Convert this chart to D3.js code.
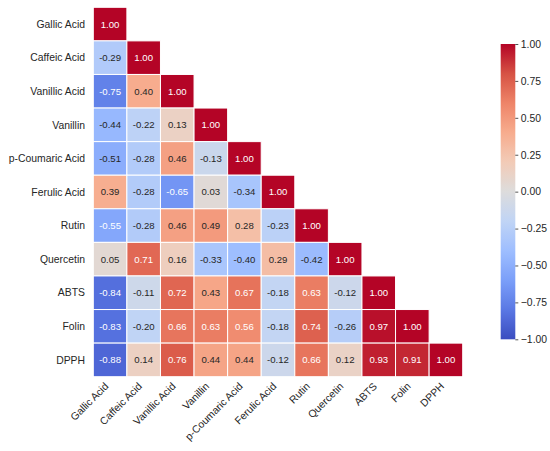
<!DOCTYPE html>
<html>
<head>
<meta charset="utf-8">
<script src="https://cdn.jsdelivr.net/npm/d3@7"></script>
<style>
  body { margin: 0; background: #ffffff; }
  text { font-family: Arial, "Liberation Sans", sans-serif; fill: #262626; }
</style>
</head>
<body>
<div id="heatmap"></div>
<script>
// correlation heatmap, lower triangle

var names = ["Gallic Acid", "Caffeic Acid", "Vanillic Acid", "Vanillin", "p-Coumaric Acid",
             "Ferulic Acid", "Rutin", "Quercetin", "ABTS", "Folin", "DPPH"];

// one row per compound, values up to the diagonal
var rowGallic    = [1.00];
var rowCaffeic   = [-0.29, 1.00];
var rowVanillic  = [-0.75, 0.40, 1.00];
var rowVanillin  = [-0.44, -0.22, 0.13, 1.00];
var rowCoumaric  = [-0.51, -0.28, 0.46, -0.13, 1.00];
var rowFerulic   = [0.39, -0.28, -0.65, 0.03, -0.34, 1.00];
var rowRutin     = [-0.55, -0.28, 0.46, 0.49, 0.28, -0.23, 1.00];
var rowQuercetin = [0.05, 0.71, 0.16, -0.33, -0.40, 0.29, -0.42, 1.00];
var rowABTS      = [-0.84, -0.11, 0.72, 0.43, 0.67, -0.18, 0.63, -0.12, 1.00];
var rowFolin     = [-0.83, -0.20, 0.66, 0.63, 0.56, -0.18, 0.74, -0.26, 0.97, 1.00];
var rowDPPH      = [-0.88, 0.14, 0.76, 0.44, 0.44, -0.12, 0.66, 0.12, 0.93, 0.91, 1.00];

var rows = [rowGallic, rowCaffeic, rowVanillic, rowVanillin, rowCoumaric, rowFerulic,
            rowRutin, rowQuercetin, rowABTS, rowFolin, rowDPPH];

var colorbarTicks = [-1.00, -0.75, -0.50, -0.25, 0.00, 0.25, 0.50, 0.75, 1.00];

// global variables
var width = 550;
var height = 451;

// coolwarm samples
var coolwarm = ["#3b4cc0", "#5a78e4", "#7b9ff9", "#9ebeff", "#c0d4f5", "#dddcdc",
                "#f2cbb7", "#f7ac8e", "#ee8468", "#d65244", "#b40426"];
var interp = d3.piecewise(d3.interpolateRgb, coolwarm);
var color = d3.scaleSequential(interp).domain([-1, 1]);

// flatten to cells
var cells = [];
rows.forEach(function(r, i) {
    r.forEach(function(v, j) {
        cells.push({ row: names[i], col: names[j], value: v });
    });
});

var svg = d3.select("#heatmap")
            .append("svg")
            .attr("width", width)
            .attr("height", height);

var x = d3.scaleBand().domain(names).range([93.3, 462.7]);
var y = d3.scaleBand().domain(names).range([7.3, 376.7]);

// relative luminance, same rule seaborn uses to pick annotation colour
function luminance(c) {
    var rgb = d3.rgb(c);
    var lin = [rgb.r, rgb.g, rgb.b].map(function(v) {
        v = v / 255;
        return v <= 0.03928 ? v / 12.92 : Math.pow((v + 0.055) / 1.055, 2.4);
    });
    return 0.2126 * lin[0] + 0.7152 * lin[1] + 0.0722 * lin[2];
}

svg.selectAll("rect.cell")
   .data(cells)
   .enter()
   .append("rect")
   .attr("class", "cell")
   .attr("x", function(d) { return x(d.col); })
   .attr("y", function(d) { return y(d.row); })
   .attr("width", x.bandwidth())
   .attr("height", y.bandwidth())
   .attr("fill", function(d) { return color(d.value); })
   .attr("stroke", "#ffffff")
   .attr("stroke-width", 1);

svg.selectAll("text.annot")
   .data(cells)
   .enter()
   .append("text")
   .attr("class", "annot")
   .attr("x", function(d) { return x(d.col) + x.bandwidth() / 2; })
   .attr("y", function(d) { return y(d.row) + y.bandwidth() / 2; })
   .attr("dy", "0.36em")
   .attr("text-anchor", "middle")
   .style("font-size", "9.6px")
   .style("fill", function(d) { return luminance(color(d.value)) > 0.408 ? "#262626" : "#ffffff"; })
   .text(function(d) { return d.value.toFixed(2); });

// y labels
svg.selectAll("text.ylab")
   .data(names)
   .enter()
   .append("text")
   .attr("class", "ylab")
   .attr("x", 85)
   .attr("y", function(d) { return y(d) + y.bandwidth() / 2; })
   .attr("dy", "0.36em")
   .attr("text-anchor", "end")
   .style("font-size", "10.4px")
   .text(function(d) { return d; });

// x labels, rotated
svg.selectAll("text.xlab")
   .data(names)
   .enter()
   .append("text")
   .attr("class", "xlab")
   .attr("text-anchor", "end")
   .attr("transform", function(d) {
       return "translate(" + (x(d) + x.bandwidth() / 2 - 1) + ",387) rotate(-45)";
   })
   .style("font-size", "10.4px")
   .text(function(d) { return d; });

// colorbar
var cbX = 500.7, cbW = 14.6;
var cbScale = d3.scaleLinear().domain([-1, 1]).range([339.3, 44]);

var grad = svg.append("defs")
              .append("linearGradient")
              .attr("id", "cbgrad")
              .attr("x1", "0").attr("y1", "1")
              .attr("x2", "0").attr("y2", "0");

grad.selectAll("stop")
    .data(d3.range(0, 1.0001, 0.02))
    .enter()
    .append("stop")
    .attr("offset", function(t) { return t; })
    .attr("stop-color", function(t) { return interp(t); });

svg.append("rect")
   .attr("x", cbX)
   .attr("y", cbScale(1))
   .attr("width", cbW)
   .attr("height", cbScale(-1) - cbScale(1))
   .attr("fill", "url(#cbgrad)");

var cbAxis = svg.append("g")
                .attr("transform", "translate(" + (cbX + cbW) + ",0)")
                .call(d3.axisRight(cbScale)
                        .tickValues(colorbarTicks)
                        .tickSize(3)
                        .tickPadding(2.5)
                        .tickFormat(d3.format(".2f")));

cbAxis.select(".domain").remove();
cbAxis.selectAll(".tick line").attr("stroke", "#262626").attr("stroke-width", 0.8);
cbAxis.selectAll(".tick text")
      .attr("fill", "#262626")
      .style("font-size", "10.4px")
      .style("font-family", "Arial, 'Liberation Sans', sans-serif");
</script>
</body>
</html>
